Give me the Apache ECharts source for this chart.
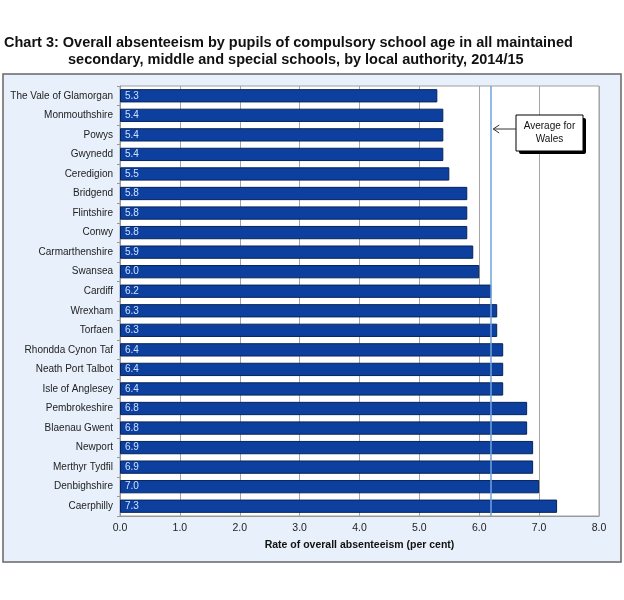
<!DOCTYPE html>
<html><head><meta charset="utf-8">
<script src="https://cdn.jsdelivr.net/npm/echarts@6/dist/echarts.min.js"></script>
<style>html,body{margin:0;padding:0;background:#fff}#c{width:624px;height:600px}</style>
</head><body><div id="c"></div>
<script>
const categories = ["The Vale of Glamorgan","Monmouthshire","Powys","Gwynedd","Ceredigion","Bridgend","Flintshire","Conwy","Carmarthenshire","Swansea","Cardiff","Wrexham","Torfaen","Rhondda Cynon Taf","Neath Port Talbot","Isle of Anglesey","Pembrokeshire","Blaenau Gwent","Newport","Merthyr Tydfil","Denbighshire","Caerphilly"];
const values = [5.3,5.4,5.4,5.4,5.5,5.8,5.8,5.8,5.9,6.0,6.2,6.3,6.3,6.4,6.4,6.4,6.8,6.8,6.9,6.9,7.0,7.3];
const walesAverage = 6.2;
const xTicks = [0,1,2,3,4,5,6,7,8];
const titleLines = ["Chart 3: Overall absenteeism by pupils of compulsory school age in all maintained","secondary, middle and special schools, by local authority, 2014/15"];
const xAxisName = "Rate of overall absenteeism (per cent)";
const avgLabel = "Average for\nWales";

const chart = echarts.init(document.getElementById('c'), null, {renderer:'canvas'});
const font = '"Liberation Sans", Arial, sans-serif';
chart.setOption({
  animation:false,
  backgroundColor:'#fff',
  grid:{left:120, right:25, top:86, bottom:84, show:true, backgroundColor:'#fff', borderColor:'#a0a0a0', borderWidth:1},
  xAxis:{type:'value', min:xTicks[0], max:xTicks[xTicks.length-1], interval:1,
    axisLine:{show:true, lineStyle:{color:'#999'}},
    axisTick:{show:false},
    splitLine:{show:true, lineStyle:{color:'#a5a5a5', width:1}},
    axisLabel:{formatter:v=>v.toFixed(1), color:'#222', fontSize:10.5, fontFamily:font, margin:7},
    name:xAxisName, nameLocation:'middle', nameGap:24,
    nameTextStyle:{fontWeight:'bold', fontSize:10.5, color:'#111', fontFamily:font}
  },
  yAxis:{type:'category', data:categories, inverse:true,
    axisLine:{show:true, lineStyle:{color:'#999'}},
    axisTick:{show:true, length:3, lineStyle:{color:'#999'}},
    axisLabel:{color:'#222', fontSize:10, fontFamily:font, margin:7}
  },
  series:[{
    type:'bar', data:values, barCategoryGap:'32%',
    itemStyle:{color:'#0c3f9e', borderColor:'#07245a', borderWidth:1},
    label:{show:true, position:'insideLeft', offset:[0,0], formatter:p=>p.value.toFixed(1), color:'#cfe2ff', fontSize:10, fontFamily:font},
    markLine:{symbol:'none', silent:true, z:10, label:{show:false},
      lineStyle:{color:'#6fa3dc', width:1.5, type:'solid'},
      data:[{xAxis:walesAverage}]}
  }]
});

const ax = chart.convertToPixel({xAxisIndex:0}, walesAverage);
const bx = 516, by = 115, bw = 67, bh = 36;
chart.setOption({graphic:[
  {type:'rect', z:-10, shape:{x:3,y:74,width:618,height:488}, style:{fill:'#e8f0fb', stroke:'#666', lineWidth:1.5}},
  {type:'text', left:4, top:35, style:{text:titleLines[0], font:'bold 14.5px '+font, fill:'#111'}},
  {type:'text', left:68, top:52, style:{text:titleLines[1], font:'bold 14.5px '+font, fill:'#111'}},
  {type:'rect', z:50, shape:{x:bx+3,y:by+3,width:bw,height:bh, r:2}, style:{fill:'#000'}},
  {type:'rect', z:51, shape:{x:bx,y:by,width:bw,height:bh}, style:{fill:'#fff', stroke:'#000', lineWidth:1}},
  {type:'text', z:52, x:bx+bw/2, y:by+bh/2, style:{text:avgLabel, font:'10px '+font, fill:'#111', align:'center', verticalAlign:'middle', lineHeight:13}},
  {type:'line', z:52, shape:{x1:bx, y1:by+bh/2-4, x2:ax+2, y2:by+bh/2-4}, style:{stroke:'#333', lineWidth:1}},
  {type:'polyline', z:52, shape:{points:[[ax+8,by+bh/2-8],[ax+2,by+bh/2-4],[ax+8,by+bh/2]]}, style:{stroke:'#333', lineWidth:1, fill:null}}
]}, {replaceMerge:['graphic']});
</script></body></html>
